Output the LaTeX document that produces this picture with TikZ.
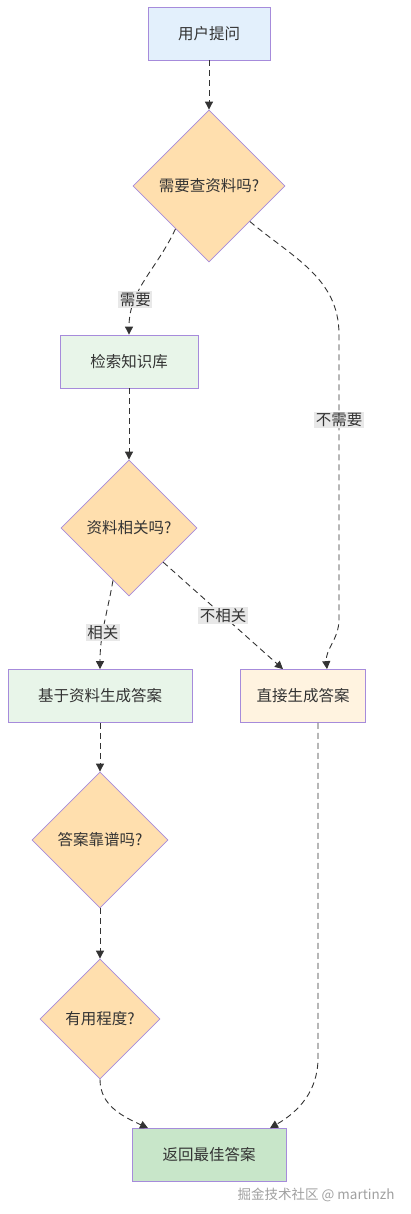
\documentclass[tikz,border=0pt]{standalone}
\usepackage{fontspec}
\newfontfamily\cjk{Noto Sans CJK SC}
\usetikzlibrary{shapes.geometric,arrows.meta,positioning}

\definecolor{askfill}{HTML}{E3F0FC}
\definecolor{kbfill}{HTML}{E8F5E9}
\definecolor{directfill}{HTML}{FFF3E0}
\definecolor{bestfill}{HTML}{C8E6C9}
\definecolor{decfill}{HTML}{FFDFAE}
\definecolor{edgepurple}{HTML}{A68BDB}
\definecolor{arrowgray}{HTML}{333333}
\definecolor{txtgray}{HTML}{333333}
\definecolor{lblgray}{HTML}{E8E8E8}
\definecolor{markgray}{HTML}{A0A0A0}

\begin{document}
\begin{tikzpicture}[node distance=150pt,on grid,
    every node/.style={font=\cjk\fontsize{15.5}{18}\selectfont,text=txtgray},
    box/.style={rectangle,draw=edgepurple,line width=0.8pt,minimum height=53pt,inner sep=0pt},
    decision/.style={diamond,aspect=1,draw=edgepurple,fill=decfill,line width=0.8pt,inner sep=0pt},
    flow/.style={-{Triangle[length=8pt,width=8pt]},draw=arrowgray,line width=0.9pt,dash pattern=on 6pt off 4pt},
    lbl/.style={fill=lblgray,inner sep=1.5pt}]
    \useasboundingbox (0,0) rectangle (410pt,-1214pt);

    \node[box,fill=askfill,minimum width=122pt] (ask) at (209pt,-33.5pt) {用户提问};
    \node[decision,minimum size=152pt] (need) [below=152.5pt of ask] {需要查资料吗?};
    \node[box,fill=kbfill,minimum width=138pt] (search) [below left=175.5pt and 80pt of need] {检索知识库};
    \node[decision,minimum size=136pt] (rel) [below=166.5pt of search] {资料相关吗?};
    \node[box,fill=kbfill,minimum width=184pt] (base) [below left=168pt and 29pt of rel] {基于资料生成答案};
    \node[box,fill=directfill,minimum width=125pt] (direct) [right=203pt of base] {直接生成答案};
    \node[decision,minimum size=136pt] (sure) [below=144pt of base] {答案靠谱吗?};
    \node[decision,minimum size=120pt] (useful) [below=179pt of sure] {有用程度?};
    \node[box,fill=bestfill,minimum width=154pt] (best) [below right=136pt and 109pt of useful] {返回最佳答案};
    \node[text=markgray,font=\cjk\fontsize{13.5}{15}\selectfont,anchor=east] (mark) at (398pt,-1195pt) {掘金技术社区 @ martinzh};

    \draw[flow] (ask) -- (need);
    \draw[flow] (need.232) to[out=-115,in=90] node[lbl,pos=0.7] {需要} (search.north);
    \draw[flow] (need.-41) to[out=-40,in=90] ([xshift=36pt]direct.north |- search.north)
        -- node[lbl,pos=0.3] {不需要} ([xshift=36pt,yshift=50pt]direct.north)
        to[out=-90,in=95] ([xshift=24pt]direct.north);
    \draw[flow] (search) -- (rel);
    \draw[flow] (rel.253) to[out=-100,in=90] node[lbl,pos=0.6] {相关} (base.north);
    \draw[flow] (rel.south east) -- node[lbl] {不相关} ([xshift=-20pt]direct.north);
    \draw[flow] (base) -- (sure);
    \draw[flow] (sure) -- (useful);
    \draw[flow] (useful.south) to[out=-90,in=155] ([xshift=-61pt]best.north);
    \draw[flow] ([xshift=15pt]direct.south) -- +(0,-335pt) to[out=-90,in=30] ([xshift=61pt]best.north);
\end{tikzpicture}
\end{document}
